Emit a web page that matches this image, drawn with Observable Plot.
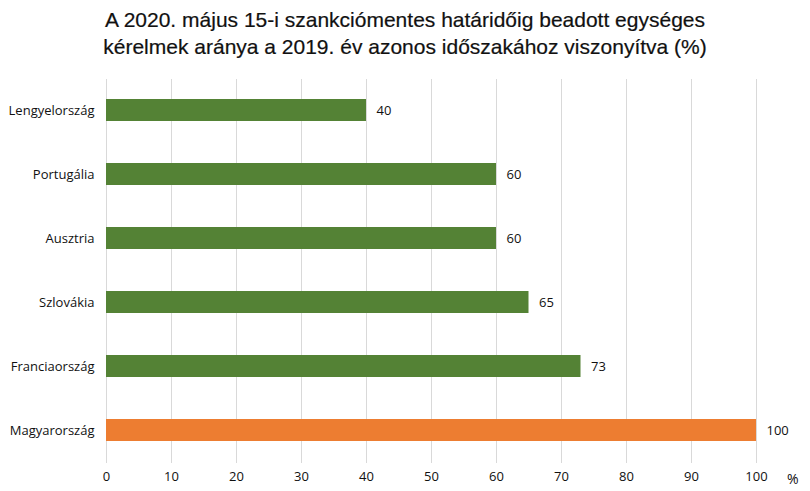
<!DOCTYPE html>
<html><head><meta charset="utf-8">
<script src="https://cdn.jsdelivr.net/npm/d3@7"></script>
<script src="https://cdn.jsdelivr.net/npm/@observablehq/plot@0.6"></script>
<style>
body{margin:0;background:#fff;}
#title{font-family:"Liberation Sans",sans-serif;font-size:21px;color:#111;text-align:center;line-height:27px;padding-top:6px;height:63px;box-sizing:border-box;width:810px;-webkit-text-stroke:0.2px #111;}
</style></head>
<body>
<div id="title">A 2020. május 15-i szankciómentes határidőig beadott egységes<br>kérelmek aránya a 2019. év azonos időszakához viszonyítva (%)</div>
<div id="chart"></div>
<script>
const countries = ["Lengyelország","Portugália","Ausztria","Szlovákia","Franciaország","Magyarország"];
const values = [40,60,60,65,73,100];
const highlight = ["Magyarország"];
const ticks = [0,10,20,30,40,50,60,70,80,90,100];

const data = countries.map((c,i)=>({country:c, value:values[i], hl: highlight.includes(c)}));

const chart = Plot.plot({
  width:810, height:428,
  marginLeft:106, marginRight:54, marginTop:16, marginBottom:28,
  style:{fontFamily:"'Open Sans',sans-serif", fontSize:"13px", color:"#111"},
  x:{domain:[0,100], ticks:ticks, label:null, tickSize:0, tickPadding:8},
  y:{domain:countries, label:null, tickSize:0, tickPadding:12, padding:0},
  marks:[
    Plot.gridX(ticks,{stroke:"#d9d9d9", strokeOpacity:1}),
    Plot.barX(data,{x:"value", y:"country", insetTop:20, insetBottom:22, fill:d=>d.hl?"#ED7D31":"#548235"}),
    Plot.text(data,{x:"value", y:"country", text:d=>String(d.value), textAnchor:"start", dx:10, dy:-1, fontSize:13}),
    Plot.axisY({tickSize:0, tickPadding:12, fontSize:13, dy:-1}),
    Plot.axisX({ticks:ticks, tickSize:0, tickPadding:8, fontSize:13}),
    Plot.text(["%"],{frameAnchor:"bottom-right", dx:42, dy:20, fontSize:14})
  ]
});
document.getElementById("chart").appendChild(chart);
</script>
</body></html>
